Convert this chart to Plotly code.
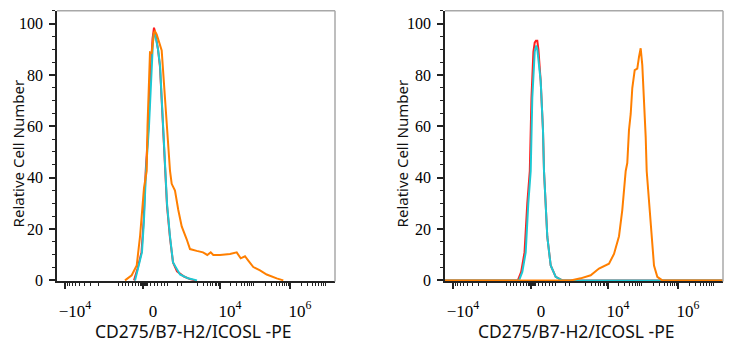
import math
import plotly.graph_objects as go

# ---- data (x in biexponential display channels 0-1000, y = relative cell number) ----
left_red_x = [277, 289.6, 304, 311.8, 319, 329, 336.3, 343.5, 348.9, 354.3, 363.3, 370.5, 381.3, 388.5, 395.7, 406.5, 417.3, 431.7, 456.9, 478.4, 496.4]
left_red_y = [0, 4.5, 11, 23.5, 42.6, 60, 80, 94, 98.4, 96, 90, 83, 60, 42, 29, 16.5, 7, 3.5, 1.5, 0.5, 0]

left_cyan_x = [280.6, 291.4, 305.7, 312.9, 320.1, 330.9, 338.1, 345.3, 348.9, 354.3, 363.3, 370.5, 381.3, 388.5, 395.7, 406.5, 417.3, 442.5, 471.2, 503.6]
left_cyan_y = [0, 4.5, 11, 23.5, 42.6, 60, 80, 93, 96.5, 95, 90, 83.8, 61, 42.6, 30, 17, 7, 2.3, 0.8, 0]

left_orange_x = [244.6, 268.7, 286.7, 298.6, 312.9, 322.7, 325.5, 334.5, 340.6, 348.9, 352.5, 358.6, 376.6, 388.5, 398.1, 406.5, 412.6, 424.4, 436.3, 448.6, 466.5, 478.4, 502.5, 525.2, 540.6, 552.9, 562.2, 586.3, 622.3, 640.3, 646.4, 660.8, 676.2, 688.1, 706.1, 730.2, 754.3, 790.3, 814.0]
left_orange_y = [0, 2, 5.8, 17, 36, 42.6, 60, 88.8, 88.6, 96.5, 97, 95.8, 89.5, 71, 59.7, 42.6, 37.6, 35, 27.4, 21, 16, 12.2, 11.5, 10.9, 9.9, 10.9, 9.9, 9.9, 10.3, 10.9, 10.9, 8.6, 9.4, 7.7, 5.2, 3.9, 2.3, 0.8, 0]

right_red_x = [0, 262, 274, 286, 296, 305, 311, 318, 322.7, 327, 332, 336, 344.2, 352.5, 356.1, 362.2, 368, 380.2, 398.2, 421.9, 1000]
right_red_y = [0, 0, 3.3, 10.9, 30, 42.6, 71, 89, 92.6, 93.3, 93.3, 90, 77.6, 58.5, 42.6, 30, 17, 5.8, 1.4, 0, 0]

right_cyan_x = [0, 266.2, 278.1, 290.3, 299.6, 308.3, 314, 322.7, 328, 332, 344.2, 352.5, 356.1, 362.2, 368, 380.2, 398.2, 421.9, 1000]
right_cyan_y = [0, 0, 3.3, 10.9, 30, 42.6, 71, 89, 91.5, 90, 77.6, 58.5, 42.6, 30, 17, 5.8, 1.4, 0, 0]

right_orange_x = [0, 452.1, 488.1, 524.1, 553.9, 589.9, 607.9, 625.9, 637.7, 650, 655.7, 661.8, 668, 673.7, 682.4, 691.7, 697.8, 703.9, 709.7, 715.8, 721.9, 725.5, 733.8, 742.1, 751.8, 763.7, 781.6, 1000]
right_orange_y = [0, 0, 0.8, 2, 4.6, 6.5, 10.3, 17.2, 27.4, 42.6, 45.7, 58.5, 64.8, 74.9, 81.9, 82.5, 87, 90.4, 83.8, 71, 55.9, 42.6, 30, 17.2, 5.8, 1.4, 0, 0]

# axis tick labels
x_tick_text = ["\u221210<sup>4</sup>", "0", "10<sup>4</sup>", "10<sup>6</sup>"]
y_tick_vals = [0, 20, 40, 60, 80, 100]
x_title = "CD275/B7-H2/ICOSL -PE"
y_title = "Relative Cell Number"

# ---- styling ----
RED, CYAN, ORANGE = "#ff1f1f", "#1cc9d4", "#ff7f00"
W, H = 734, 350
PX = 278.0               # plot width in pixels
S = 1000.0 / PX          # channels per pixel

# decade tick positions on the biexponential display scale (channels)
decades = [r * S for r in [8, 56, 86, 115, 131, 163, 198, 233, 270]]
labeled = [decades[0], decades[2], decades[5], decades[7]]
unlabeled = [decades[i] for i in (1, 3, 4, 6, 8)]
minor = []
def logseg(a, b, rev=False):
    for k in range(2, 10):
        f = math.log10(k)
        minor.append(b - (b - a) * f if rev else a + (b - a) * f)
logseg(decades[0], decades[1], rev=True)
logseg(decades[4], decades[5])
logseg(decades[5], decades[6])
logseg(decades[6], decades[7])
logseg(decades[7], decades[8])
minor += [r * S for r in [61, 65, 68, 71, 75, 78, 81, 83, 84, 85, 87, 88, 89, 90, 93, 97, 100, 104, 107, 110, 120, 124]]
minor = sorted(v for v in minor if 0 <= v <= 1000)

fig = go.Figure()
panels = [
    ("x", "y", [(left_red_x, left_red_y, RED), (left_cyan_x, left_cyan_y, CYAN), (left_orange_x, left_orange_y, ORANGE)]),
    ("x2", "y2", [(right_red_x, right_red_y, RED), (right_cyan_x, right_cyan_y, CYAN), (right_orange_x, right_orange_y, ORANGE)]),
]
for xa, ya, series in panels:
    for xs, ys, c in series:
        fig.add_trace(go.Scatter(x=xs, y=ys, mode="lines", xaxis=xa, yaxis=ya,
                                 line=dict(color=c, width=2), showlegend=False, hoverinfo="skip"))

YMIN = -0.4
ydom = [1 - 288 / H, 1 - 11 / H]
xdoms = [[57 / W, 335 / W], [445 / W, 723 / W]]
ytickfont = dict(family="Liberation Serif, Times New Roman, serif", size=16, color="#000")
xtickfont = dict(family="Liberation Serif, Times New Roman, serif", size=17, color="#000")

def xaxis(dom, anchor):
    return dict(domain=dom, anchor=anchor, range=[0, 1000], showgrid=False, zeroline=False,
                showline=True, linecolor="#222", linewidth=1.5,
                tickmode="array", tickvals=labeled, ticktext=x_tick_text,
                ticks="outside", ticklen=6, tickwidth=1.5, tickcolor="#222",
                ticklabelshift=10, ticklabelstandoff=7,
                minor=dict(tickmode="array", tickvals=minor, ticklen=3, tickwidth=1, tickcolor="#222", showgrid=False),
                tickfont=xtickfont, fixedrange=True)

def yaxis(anchor):
    return dict(domain=ydom, anchor=anchor, range=[YMIN, 105], showgrid=False, zeroline=False,
                showline=True, linecolor="#222", linewidth=1.5,
                tickmode="array", tickvals=y_tick_vals,
                ticks="outside", ticklen=6, tickwidth=1.5, tickcolor="#222",
                ticklabelstandoff=3,
                minor=dict(tickmode="linear", tick0=0, dtick=5, ticklen=3, tickwidth=1, tickcolor="#222", showgrid=False),
                tickfont=ytickfont, fixedrange=True)

fig.update_layout(
    width=W, height=H, margin=dict(l=0, r=0, t=0, b=0),
    paper_bgcolor="white", plot_bgcolor="white",
    xaxis=xaxis(xdoms[0], "y"), yaxis=yaxis("x"),
    xaxis2=xaxis(xdoms[1], "y2"), yaxis2=yaxis("x2"),
)

for xa, ya in [("x", "y"), ("x2", "y2")]:
    # gray top/right frame
    fig.add_shape(type="line", xref=f"{xa} domain", yref="paper", x0=0, x1=1, y0=ydom[1], y1=ydom[1],
                  line=dict(color="#a8a8a8", width=1.5))
    fig.add_shape(type="line", xref=f"{xa} domain", yref="paper", x0=1, x1=1, y0=ydom[0], y1=ydom[1],
                  line=dict(color="#a8a8a8", width=1.5))
    # long unlabeled decade ticks
    for v in unlabeled:
        fig.add_shape(type="line", xref=xa, yref=ya, ysizemode="pixel", yanchor=YMIN,
                      x0=v, x1=v, y0=0, y1=-6, line=dict(color="#222", width=1.5))

titlefont_x = dict(family="Noto Sans, Open Sans, sans-serif", size=17.5, color="#111")
titlefont_y = dict(family="Noto Sans, Open Sans, sans-serif", size=15, color="#111")
for cx, ty in [(192.5, 18), (575.5, 402)]:
    fig.add_annotation(text=x_title, xref="paper", yref="paper", x=cx / W, y=1 - 339 / H,
                       showarrow=False, font=titlefont_x, xanchor="center", yanchor="middle")
    fig.add_annotation(text=y_title, xref="paper", yref="paper", x=ty / W, y=1 - 157 / H,
                       showarrow=False, font=titlefont_y, textangle=-90, xanchor="center", yanchor="middle")

fig.write_html("out.html")
